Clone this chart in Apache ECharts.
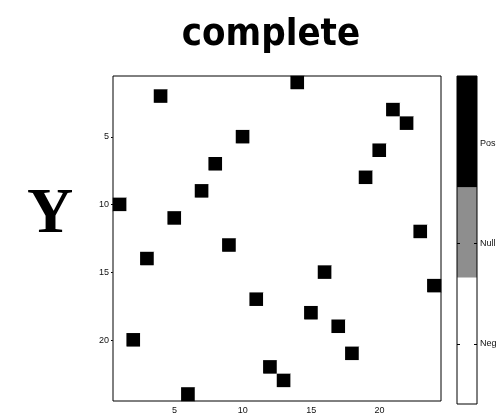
<!DOCTYPE html>
<html>
<head>
<meta charset="utf-8">
<script src="https://cdn.jsdelivr.net/npm/echarts@6/dist/echarts.min.js"></script>
<style>
  html, body { margin: 0; padding: 0; background: #fff; }
  #chart { width: 502px; height: 415px; }
</style>
</head>
<body>
<div id="chart"></div>
<script>
// Matrix contents: one positive entry per row, everything else negative.
const titleText = 'complete';
const rowLabel = 'Y';
const matrixSize = 24;
// column (1-based) of the positive cell in each row, rows 1..24 top to bottom
const positiveColumn = [14, 4, 21, 22, 10, 20, 8, 19, 7, 1, 5, 23, 9, 3, 16, 24, 11, 15, 17, 2, 18, 12, 13, 6];
const tickStep = 5;

// Colour states and their colour-bar layout
const stateValues = [1, 0, -1];
const stateNames = ['Pos', 'Null', 'Neg'];
const stateColors = ['#000000', '#8e8e8e', '#ffffff'];
const colorbarBounds = [-1.6, -0.34, 0.56, 1.67]; // Neg | Null | Pos, bottom to top
const colorbarRange = [-1.6, 1.67];
const colorbarWidth = 20;

const categories = Array.from({ length: matrixSize }, (_, i) => String(i + 1));
const cells = [];
for (let r = 0; r < matrixSize; r++) {
  for (let c = 0; c < matrixSize; c++) {
    cells.push([c, r, positiveColumn[r] - 1 === c ? stateValues[0] : stateValues[2]]);
  }
}
const colorbarData = colorbarBounds.slice(0, -1).map((lo, i) => [0, lo, colorbarBounds[i + 1], 2 - i]);

const everyFifth = (index) => (index + 1) % tickStep === 0;
const labelFont = { fontFamily: '"Liberation Sans", Arial, sans-serif', fontSize: 9, color: '#111' };

const catAxis = (extra) => Object.assign({
  type: 'category',
  data: categories,
  gridIndex: 0,
  axisLine: { show: false },
  splitLine: { show: false },
  axisTick: { show: true, inside: true, length: 3, alignWithLabel: true, interval: everyFifth,
              lineStyle: { color: '#000', width: 1 } },
  axisLabel: Object.assign({ show: false, interval: everyFifth, margin: 4 }, labelFont)
}, extra);

// colour-bar axes: ticks point into the bar from both edges
const barAxis = (extra) => Object.assign({
  type: 'value', gridIndex: 1, min: colorbarRange[0], max: colorbarRange[1], z: 10,
  axisLine: { show: false }, splitLine: { show: false },
  axisTick: { show: true, inside: false, length: 3, customValues: stateValues,
              lineStyle: { color: '#000', width: 1 } },
  axisLabel: { show: false }
}, extra);

const chart = echarts.init(document.getElementById('chart'), null, { renderer: 'canvas' });
chart.setOption({
  backgroundColor: '#fff',
  animation: false,
  grid: [
    { left: 113, top: 76, width: 328, height: 328, show: true, borderColor: '#000', borderWidth: 1,
      backgroundColor: 'transparent', z: 5 },
    { left: 457, top: 76, width: colorbarWidth, height: 328, show: true, borderColor: '#000', borderWidth: 1,
      backgroundColor: 'transparent', z: 5 }
  ],
  xAxis: [
    catAxis({ position: 'bottom', axisLabel: Object.assign({ show: true, interval: everyFifth, margin: 5 }, labelFont) }),
    catAxis({ position: 'top' }),
    { type: 'value', gridIndex: 1, min: 0, max: 1, show: false }
  ],
  yAxis: [
    catAxis({ position: 'left', inverse: true,
      axisTick: { show: true, inside: false, length: 2, alignWithLabel: true, interval: everyFifth,
                  lineStyle: { color: '#000', width: 1 } },
      axisLabel: Object.assign({ show: true, interval: everyFifth, margin: 4 }, labelFont) }),
    catAxis({ position: 'right', inverse: true }),
    barAxis({ position: 'right', axisTick: { show: false },
      axisLabel: Object.assign({ show: true, margin: 3, customValues: stateValues,
        formatter: (v) => stateNames[stateValues.indexOf(Math.round(v))] }, labelFont) }),
    barAxis({ position: 'left', offset: -colorbarWidth }),
    barAxis({ position: 'right', offset: -colorbarWidth })
  ],
  visualMap: {
    type: 'piecewise', show: false, seriesIndex: 0, dimension: 2,
    pieces: stateValues.map((v, i) => ({ value: v, color: stateColors[i] }))
  },
  series: [
    {
      type: 'heatmap', xAxisIndex: 0, yAxisIndex: 0, data: cells,
      itemStyle: { borderWidth: 0 }, emphasis: { disabled: true }
    },
    {
      type: 'custom', xAxisIndex: 2, yAxisIndex: 2, data: colorbarData, z: 1,
      encode: { x: 0, y: [1, 2] },
      renderItem: (params, api) => {
        const a = api.coord([0, api.value(1)]);
        const b = api.coord([1, api.value(2)]);
        return {
          type: 'rect',
          shape: { x: a[0], y: b[1], width: b[0] - a[0], height: a[1] - b[1] },
          style: { fill: stateColors[api.value(3)] }
        };
      }
    }
  ],
  graphic: [
    { type: 'text', x: 271, y: 54, style: { text: titleText, textAlign: 'center', textVerticalAlign: 'bottom',
      font: 'bold 38px "DejaVu Sans Condensed", "DejaVu Sans", sans-serif', fill: '#000' } },
    { type: 'text', x: 50, y: 247, style: { text: rowLabel, textAlign: 'center', textVerticalAlign: 'bottom',
      font: 'bold 64px "Liberation Serif", "Times New Roman", serif', fill: '#000' } }
  ]
});
</script>
</body>
</html>
